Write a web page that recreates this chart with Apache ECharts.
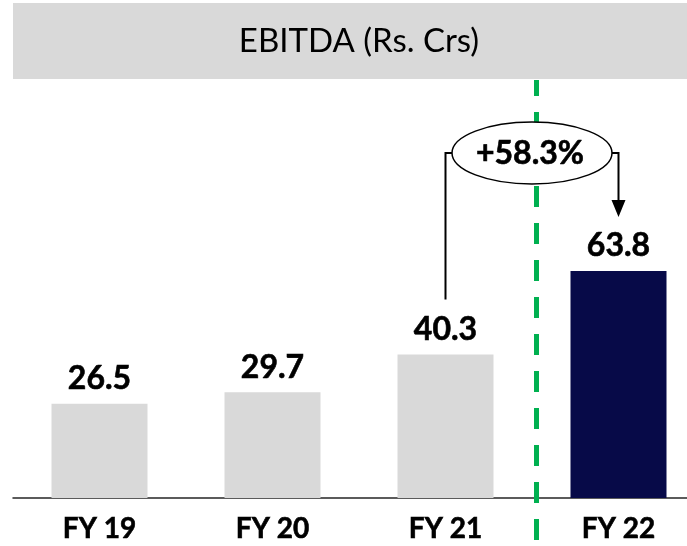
<!DOCTYPE html>
<html>
<head>
<meta charset="utf-8">
<script src="https://cdn.jsdelivr.net/npm/echarts@6/dist/echarts.min.js"></script>
<style>
  html, body { margin: 0; padding: 0; background: #fff; }
  #ebitda { width: 687px; height: 546px; }
</style>
</head>
<body>
<div id="ebitda"></div>
<script>
var years = ['FY 19', 'FY 20', 'FY 21', 'FY 22'];
var ebitda = [26.5, 29.7, 40.3, 63.8];

var FONT = 'Lato, "Open Sans", sans-serif';
var chart = echarts.init(document.getElementById('ebitda'));

let option = {
  animation: false,
  grid: { left: 13, top: 71, right: -18, bottom: 48, outerBoundsMode: 'none', containLabel: false },
  xAxis: {
    type: 'category',
    data: years,
    axisTick: { show: false },
    axisLine: { lineStyle: { color: '#262626', width: 1.5 } },
    axisLabel: {
      margin: 17,
      color: '#000',
      fontFamily: FONT,
      fontWeight: 'bold',
      fontSize: 28,
      textBorderColor: '#000',
      textBorderWidth: 0.6
    }
  },
  yAxis: {
    type: 'value',
    min: 0,
    max: 120,
    show: false,
    splitLine: { show: false }
  },
  series: [
    {
      type: 'bar',
      barWidth: 96,
      data: ebitda.map(function (v, i) {
        // last year is highlighted in navy
        return {
          value: v,
          itemStyle: { color: i === ebitda.length - 1 ? '#070A48' : '#D9D9D9' }
        };
      }),
      label: {
        show: true,
        position: 'top',
        distance: 9,
        color: '#000',
        fontFamily: FONT,
        fontWeight: 'bold',
        fontSize: 32,
        textBorderColor: '#000',
        textBorderWidth: 0.6
      }
    }
  ]
};

chart.setOption(option);

// growth annotation between the last two years
var n = ebitda.length;
var p1 = chart.convertToPixel({ seriesIndex: 0 }, [years[n - 2], ebitda[n - 2]]);
var p2 = chart.convertToPixel({ seriesIndex: 0 }, [years[n - 1], ebitda[n - 1]]);
var growth = ((ebitda[n - 1] - ebitda[n - 2]) / ebitda[n - 2] * 100).toFixed(1);

var ecx = (p1[0] + p2[0]) / 2, ecy = 153, rx = 80, ry = 31;
var sepX = ecx + 4.5;

chart.setOption({
  graphic: [
    {
      type: 'rect', z: 1,
      shape: { x: 13, y: 3, width: 674, height: 76 },
      style: { fill: '#D9D9D9' }
    },
    {
      type: 'text', z: 2,
      x: 359, y: 41,
      style: {
        text: 'EBITDA (Rs. Crs)',
        fill: '#000',
        font: '33px ' + FONT,
        align: 'center',
        verticalAlign: 'middle'
      }
    },
    {
      type: 'line', z: 5,
      shape: { x1: sepX, y1: 540, x2: sepX, y2: 80 },
      style: { stroke: '#00B050', lineWidth: 5, lineDash: [21, 16] }
    },
    {
      type: 'polyline', z: 6,
      shape: { points: [[p1[0], p1[1] - 55], [p1[0], ecy], [ecx - rx, ecy]] },
      style: { stroke: '#000', lineWidth: 2, fill: null }
    },
    {
      type: 'polyline', z: 6,
      shape: { points: [[ecx + rx, ecy], [p2[0], ecy], [p2[0], p2[1] - 70]] },
      style: { stroke: '#000', lineWidth: 2, fill: null }
    },
    {
      type: 'polygon', z: 6,
      shape: { points: [[p2[0] - 7, p2[1] - 71], [p2[0] + 7, p2[1] - 71], [p2[0], p2[1] - 54]] },
      style: { fill: '#000' }
    },
    {
      type: 'ellipse', z: 7,
      shape: { cx: ecx, cy: ecy, rx: rx, ry: ry },
      style: { fill: '#fff', stroke: '#000', lineWidth: 1.5 }
    },
    {
      type: 'text', z: 8,
      x: ecx - 2, y: ecy + 1,
      style: {
        text: '+' + growth + '%',
        fill: '#000',
        font: 'bold 32px ' + FONT,
        stroke: '#000',
        lineWidth: 0.6,
        align: 'center',
        verticalAlign: 'middle'
      }
    }
  ]
});
</script>
</body>
</html>
